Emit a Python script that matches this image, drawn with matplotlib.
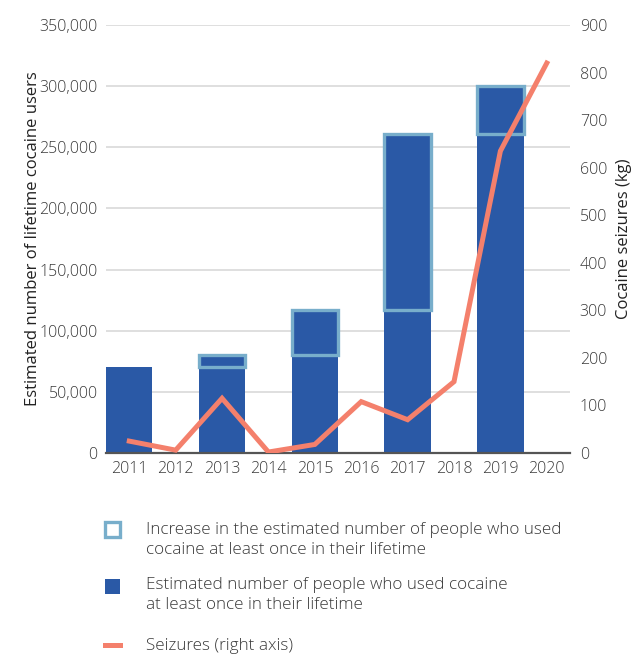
import matplotlib
matplotlib.use("Agg")
import matplotlib.pyplot as plt
from matplotlib.patches import Rectangle
from matplotlib.lines import Line2D
from matplotlib.ticker import FuncFormatter, MultipleLocator

plt.rcParams['font.family'] = ['Open Sans', 'DejaVu Sans']
plt.rcParams['font.weight'] = 'light'

years = ['2011', '2012', '2013', '2014', '2015', '2016', '2017', '2018', '2019', '2020']
survey_years = ['2011', '2013', '2015', '2017', '2019']
users = [70000, 80000, 117000, 261000, 300000]
seizures = [25, 6, 115, 2, 18, 108, 70, 150, 635, 820]

dark_blue = '#2a59a6'
light_blue = '#78aecb'
salmon = '#f4806c'
text_col = '#3a3a3a'

# previous survey value is the solid part, the rest is the increase box
base = [users[0]] + users[:-1]
increase = [u - b for u, b in zip(users, base)]
xpos = [years.index(y) for y in survey_years]

fig = plt.figure(figsize=(6.39, 6.55), dpi=100)
ax = fig.add_axes([0.166, 0.3084, 0.726, 0.6534])

ax.bar(xpos, base, width=1.0, color=dark_blue, zorder=2)
ax.bar(xpos[1:], increase[1:], bottom=base[1:], width=1.0, color=dark_blue,
       edgecolor=light_blue, linewidth=2.4, zorder=2)

ax.set_xlim(-0.5, len(years) - 0.5)
ax.set_ylim(0, 350000)
ax.yaxis.set_major_locator(MultipleLocator(50000))
ax.yaxis.set_major_formatter(FuncFormatter(lambda v, p: f"{int(v):,}"))
ax.set_xticks(range(len(years)))
ax.set_xticklabels(years)
ax.grid(axis='y', color='#d9d9d9', linewidth=1.2, zorder=0)
ax.set_axisbelow(True)
for s in ['left', 'right', 'top']:
    ax.spines[s].set_visible(False)
ax.spines['bottom'].set_color('#555555')
ax.spines['bottom'].set_linewidth(1.6)
ax.spines['bottom'].set_zorder(3)
ax.tick_params(axis='both', length=0, labelsize=11.5, colors=text_col)
ax.tick_params(axis='y', pad=6)
ax.tick_params(axis='x', pad=6)
ax.set_ylabel('Estimated number of lifetime cocaine users', fontsize=12,
              color='#222222', labelpad=-1)

ax2 = ax.twinx()
ax2.plot(range(len(years)), seizures, color=salmon, linewidth=3.6,
         solid_joinstyle='miter', zorder=4)
ax2.set_ylim(0, 900)
ax2.yaxis.set_major_locator(MultipleLocator(100))
for s in ['left', 'right', 'top', 'bottom']:
    ax2.spines[s].set_visible(False)
ax2.tick_params(axis='y', length=0, labelsize=11.5, colors=text_col, pad=7)
ax2.set_ylabel('Cocaine seizures (kg)', fontsize=12, color='#222222', labelpad=6)

# legend drawn by hand in figure pixels
W, H = 639, 655
def fx(px):
    return px / W
def fy(py):
    return 1 - py / H

fig.add_artist(Rectangle((fx(105), fy(537)), fx(15), 15 / H, transform=fig.transFigure,
                         facecolor='white', edgecolor=light_blue, linewidth=2.4))
fig.add_artist(Rectangle((fx(105), fy(594)), fx(15), 15 / H, transform=fig.transFigure,
                         facecolor=dark_blue, edgecolor='none'))
fig.add_artist(Line2D([fx(105), fx(120)], [fy(645), fy(645)], transform=fig.transFigure,
                      color=salmon, linewidth=3.6))

leg_fs = 12.3
fig.text(fx(146), fy(540), 'Increase in the estimated number of people who used\n'
         'cocaine at least once in their lifetime', fontsize=leg_fs, color=text_col,
         va='center', ha='left', linespacing=1.3)
fig.text(fx(146), fy(595), 'Estimated number of people who used cocaine\n'
         'at least once in their lifetime', fontsize=leg_fs, color=text_col,
         va='center', ha='left', linespacing=1.3)
fig.text(fx(146), fy(646), 'Seizures (right axis)', fontsize=leg_fs, color=text_col,
         va='center', ha='left')

fig.savefig('out.png', dpi=100)
